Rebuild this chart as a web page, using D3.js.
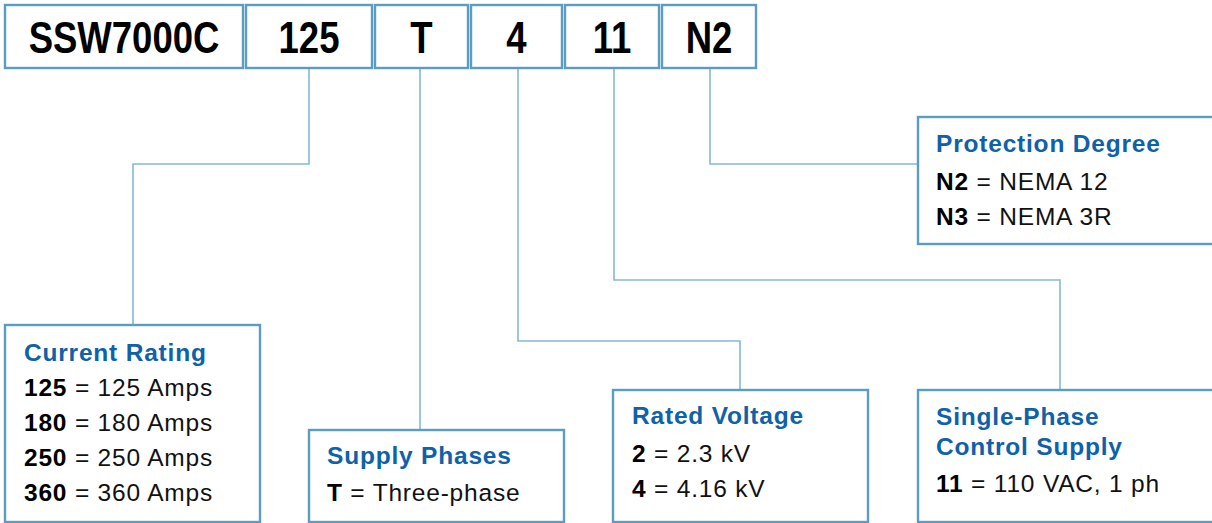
<!DOCTYPE html>
<html><head><meta charset="utf-8">
<script src="https://cdn.jsdelivr.net/npm/d3@7"></script>
<style>
html,body{margin:0;padding:0;background:#fff;}
svg{display:block;}
</style></head>
<body>
<svg id="c" width="1212" height="523"></svg>
<script>
// ---- data ----
const codeParts = ["SSW7000C", "125", "T", "4", "11", "N2"];
const currentTitle = ["Current Rating"];
const currentCodes = ["125", "180", "250", "360"];
const currentValues = ["125 Amps", "180 Amps", "250 Amps", "360 Amps"];
const phaseTitle = ["Supply Phases"];
const phaseCodes = ["T"];
const phaseValues = ["Three-phase"];
const voltageTitle = ["Rated Voltage"];
const voltageCodes = ["2", "4"];
const voltageValues = ["2.3 kV", "4.16 kV"];
const protectionTitle = ["Protection Degree"];
const protectionCodes = ["N2", "N3"];
const protectionValues = ["NEMA 12", "NEMA 3R"];
const controlTitle = ["Single-Phase", "Control Supply"];
const controlCodes = ["11"];
const controlValues = ["110 VAC, 1 ph"];

// ---- layout ----
const boxStroke = "#5b9dc2", linkStroke = "#86b9d3", titleColor = "#0f61a8";
const topBoxes = [[5,243],[246,372],[375,468],[471,562],[565,659],[662,756]];
const topY0 = 5, topY1 = 68;

const svg = d3.select("#c");
const x = d3.scaleIdentity(), y = d3.scaleIdentity();

// connectors
const links = [
  [[309,topY1],[309,164],[133,164],[133,325]],
  [[420,topY1],[420,430]],
  [[518,topY1],[518,341],[740,341],[740,390]],
  [[614,topY1],[614,280],[1060,280],[1060,390]],
  [[710,topY1],[710,164],[918,164]]
];
const line = d3.line().x(d=>x(d[0])).y(d=>y(d[1]));
svg.selectAll("path.link").data(links).join("path").attr("class","link")
  .attr("d",line).attr("fill","none").attr("stroke",linkStroke).attr("stroke-width",1.6);

// top code boxes
const tg = svg.selectAll("g.code").data(codeParts).join("g").attr("class","code");
tg.append("rect")
  .attr("x",(d,i)=>x(topBoxes[i][0])).attr("y",y(topY0))
  .attr("width",(d,i)=>topBoxes[i][1]-topBoxes[i][0]).attr("height",topY1-topY0)
  .attr("fill","#fff").attr("stroke",boxStroke).attr("stroke-width",2.4);
const condense = 0.83;
tg.append("text")
  .attr("transform",(d,i)=>`translate(${(topBoxes[i][0]+topBoxes[i][1])/2},53) scale(${condense},1)`)
  .attr("text-anchor","middle")
  .attr("font-family","'Liberation Sans',Arial,sans-serif")
  .attr("font-weight","bold").attr("font-size",44).attr("fill","#000")
  .text(d=>d);

// legend boxes
const legends = [
  {title:currentTitle, codes:currentCodes, values:currentValues, box:[5,325,260,522], tx:24, ty:[361], ly:[396,431,466,501]},
  {title:phaseTitle, codes:phaseCodes, values:phaseValues, box:[309,430,564,522], tx:327, ty:[464], ly:[501]},
  {title:voltageTitle, codes:voltageCodes, values:voltageValues, box:[613,390,868,522], tx:632, ty:[424], ly:[462,497]},
  {title:protectionTitle, codes:protectionCodes, values:protectionValues, box:[918,117,1220,244], tx:936, ty:[152], ly:[190,225]},
  {title:controlTitle, codes:controlCodes, values:controlValues, box:[918,390,1220,522], tx:936, ty:[425,455], ly:[492]}
];
const lg = svg.selectAll("g.legend").data(legends).join("g").attr("class","legend");
lg.append("rect")
  .attr("x",d=>d.box[0]).attr("y",d=>d.box[1])
  .attr("width",d=>d.box[2]-d.box[0]).attr("height",d=>d.box[3]-d.box[1])
  .attr("fill","#fff").attr("stroke",boxStroke).attr("stroke-width",2.4);
lg.each(function(d){
  const g = d3.select(this);
  d.title.forEach((t,i)=>{
    g.append("text").attr("x",d.tx).attr("y",d.ty[i])
      .attr("font-family","'Liberation Sans',Arial,sans-serif").attr("font-weight","bold")
      .attr("font-size",24.5).attr("letter-spacing",0.8).attr("fill",titleColor).text(t);
  });
  d.codes.forEach((c,i)=>{
    const t = g.append("text").attr("x",d.tx).attr("y",d.ly[i])
      .attr("font-family","'Liberation Sans',Arial,sans-serif")
      .attr("font-size",24.5).attr("letter-spacing",0.8).attr("fill","#111");
    t.append("tspan").attr("font-weight","bold").attr("fill","#000").text(c);
    t.append("tspan").text(" = " + d.values[i]);
  });
});
</script>
</body></html>
